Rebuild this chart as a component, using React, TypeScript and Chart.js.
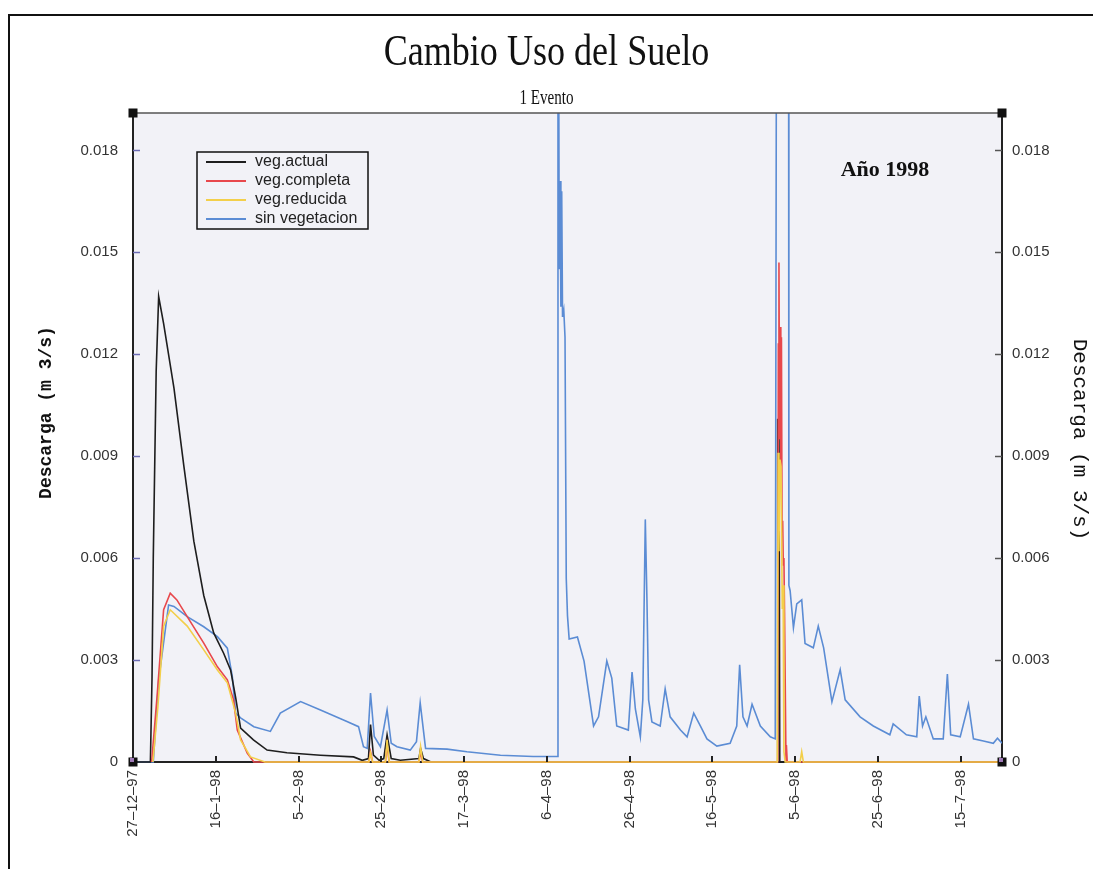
import React, { useEffect, useRef } from "react";
import { Chart, registerables } from "chart.js";

Chart.register(...registerables);

// Days counted from 27-12-97
const xTickDays = [0, 20, 40, 60, 80, 100, 120, 140, 160, 180, 200];
const xTickLabels = ["27–12–97", "16–1–98", "5–2–98", "25–2–98", "17–3–98", "6–4–98", "26–4–98", "16–5–98", "5–6–98", "25–6–98", "15–7–98"];
const yTicks = [0, 0.003, 0.006, 0.009, 0.012, 0.015, 0.018];
const yTickLabels = ["0", "0.003", "0.006", "0.009", "0.012", "0.015", "0.018"];

const chartTitle = "Cambio Uso del Suelo";
const chartSubtitle = "1 Evento";
const axisTitle = "Descarga (m 3/s)";
const yearNote = "Año 1998";

const seriesNames = ["veg.actual", "veg.completa", "veg.reducida", "sin vegetacion"];
const seriesColors = ["#1e1e1e", "#e8484c", "#f3cf4a", "#5b8cd4"];

const actualDays = [0, 4.2, 4.6, 4.9, 5.6, 6.2, 7.4, 9.9, 12.3, 14.7, 17.1, 19.5, 21.9, 23.6, 24.8, 26.0, 29.1, 32.4, 37.2, 45.3, 53.3, 55.4, 56.9, 57.4, 58.1, 59.5, 60.6, 61.4, 62.4, 64.6, 69.1, 69.5, 70.2, 72, 155.7, 155.8, 156.0, 156.1, 156.3, 210];
const actualValues = [0, 0, 0.0025, 0.006, 0.0115, 0.0137, 0.0129, 0.011, 0.0087, 0.0065, 0.0049, 0.0038, 0.0032, 0.0027, 0.0019, 0.001, 0.00065, 0.00035, 0.00027, 0.0002, 0.00015, 0.00005, 0.0001, 0.0011, 0.0002, 0.00005, 0.0001, 0.0008, 0.0001, 0.00005, 0.0001, 0.0004, 0.0001, 0, 0, 0.0101, 0.0086, 0.0101, 0, 0];

const completaDays = [4.5, 5.8, 7.4, 9.0, 10.6, 13.1, 17.1, 20.4, 22.8, 24.3, 25.2, 27.6, 29.2, 57.0, 57.4, 57.9, 61.0, 61.4, 61.9, 69.1, 69.5, 70.0, 155.8, 155.95, 156.1, 156.25, 156.4, 156.55, 156.7, 156.85, 157.0, 157.15, 157.3, 157.45, 157.8, 157.9, 158.1, 210];
const completaValues = [0, 0.0019, 0.00448, 0.00497, 0.00477, 0.00428, 0.0035, 0.0028, 0.00242, 0.00183, 0.00094, 0.00026, 0, 0, 0.0003, 0, 0, 0.0005, 0, 0, 0.0003, 0, 0, 0.0123, 0.0147, 0.0095, 0.0128, 0.0088, 0.0125, 0.0068, 0.0071, 0.0058, 0.006, 0.0044, 0, 0.0005, 0, 0];

const reducidaDays = [4.8, 6.0, 7.4, 9.0, 13.1, 17.1, 20.4, 22.8, 24.8, 26.0, 28.4, 31.9, 57.0, 57.4, 57.9, 61.0, 61.4, 61.9, 69.1, 69.5, 70.0, 155.7, 155.9, 156.1, 156.35, 156.6, 156.9, 157.1, 157.3, 157.6, 161.2, 161.6, 162.0, 210];
const reducidaValues = [0, 0.0016, 0.004, 0.00448, 0.004, 0.0033, 0.00271, 0.00233, 0.00144, 0.00065, 0.00015, 0, 0, 0.00026, 0, 0, 0.00065, 0, 0, 0.00045, 0, 0, 0.0091, 0.0062, 0.0089, 0.0087, 0.0045, 0.0052, 0.0003, 0, 0, 0.0003, 0, 0];

const sinVegDays = [0, 4.9, 6.2, 8.6, 9.9, 13.1, 17.1, 20.4, 22.8, 24.0, 24.8, 26.0, 29.2, 33.2, 35.6, 40.5, 45.3, 51.7, 54.5, 55.7, 56.6, 57.4, 58.3, 59.8, 61.4, 62.4, 63.8, 67.0, 68.5, 69.4, 70.7, 75.9, 80.7, 88.8, 96.7, 102.5, 102.7, 103.0, 103.2, 103.4, 103.6, 103.8, 104.1, 104.4, 104.7, 105.0, 105.4, 107.4, 109.0, 111.3, 112.5, 114.5, 115.7, 116.9, 119.7, 120.6, 121.4, 122.6, 123.2, 123.8, 124.2, 124.6, 125.4, 127.4, 128.6, 129.8, 132.3, 133.9, 135.5, 137.1, 138.7, 141.1, 144.3, 145.9, 146.6, 147.4, 148.4, 149.6, 151.6, 154.0, 155.2, 155.6, 158.4, 158.5, 158.8, 159.6, 160.4, 161.6, 162.4, 164.4, 165.6, 166.9, 168.9, 170.9, 172.1, 175.7, 178.9, 182.9, 183.7, 186.9, 189.4, 190.0, 190.8, 191.6, 193.4, 195.8, 196.8, 197.6, 199.9, 201.9, 203.1, 205.5, 207.9, 208.9, 210];
const sinVegValues = [0, 0, 0.0024, 0.00462, 0.00458, 0.00428, 0.00398, 0.00369, 0.00335, 0.00251, 0.00144, 0.0013, 0.00104, 0.0009, 0.00144, 0.00178, 0.00153, 0.00119, 0.00104, 0.00045, 0.0004, 0.00203, 0.00075, 0.00045, 0.00153, 0.00055, 0.00045, 0.00035, 0.0006, 0.00174, 0.0004, 0.00038, 0.0003, 0.0002, 0.00016, 0.00016, 0.03, 0.0145, 0.0171, 0.0134, 0.0168, 0.0131, 0.0133, 0.0125, 0.0054, 0.0043, 0.00362, 0.00368, 0.00297, 0.00106, 0.00133, 0.00297, 0.00247, 0.00106, 0.00094, 0.00265, 0.00156, 0.00074, 0.00183, 0.00714, 0.00477, 0.00183, 0.00118, 0.00106, 0.00215, 0.00133, 0.00094, 0.00074, 0.00144, 0.00106, 0.00068, 0.00047, 0.00055, 0.00106, 0.00286, 0.00133, 0.00106, 0.0017, 0.00106, 0.00074, 0.00068, 0.03, 0.03, 0.0052, 0.00504, 0.00395, 0.00465, 0.00477, 0.00349, 0.00336, 0.004, 0.00336, 0.00177, 0.00272, 0.00183, 0.00133, 0.00106, 0.0008, 0.00112, 0.0008, 0.00074, 0.00194, 0.00106, 0.00133, 0.00068, 0.00068, 0.00259, 0.0008, 0.00074, 0.0017, 0.00068, 0.00062, 0.00055, 0.0007, 0.00055];

const seriesDays = [actualDays, completaDays, reducidaDays, sinVegDays];
const seriesValues = [actualValues, completaValues, reducidaValues, sinVegValues];
// drawing order: lower value drawn on top
const seriesOrder = [3, 2, 1, 4];

const PLOT_BG = "#f2f2f7";
const SERIF = "'Liberation Serif', 'Times New Roman', serif";
const MONO = "'Liberation Mono', 'Courier New', monospace";

function drawStretchedText(ctx: any, text: string, cx: number, baseline: number, font: string, scaleX: number) {
  ctx.save();
  ctx.translate(cx, baseline);
  ctx.scale(scaleX, 1);
  ctx.font = font;
  ctx.textAlign = "center";
  ctx.textBaseline = "alphabetic";
  ctx.fillText(text, 0, 0);
  ctx.restore();
}

const framePlugin = {
  id: "frameDecor",
  beforeDraw(chart: any) {
    const { ctx, chartArea: a } = chart;
    ctx.save();
    ctx.fillStyle = "#ffffff";
    ctx.fillRect(0, 0, chart.width, chart.height);
    ctx.fillStyle = PLOT_BG;
    ctx.fillRect(a.left, a.top, a.right - a.left, a.bottom - a.top);

    // titles, centred on the page
    const cx = chart.width / 2;
    ctx.fillStyle = "#111";
    drawStretchedText(ctx, chartTitle, cx, 65, `44px ${SERIF}`, 0.82);
    drawStretchedText(ctx, chartSubtitle, cx, 104, `21px ${SERIF}`, 0.72);

    // axis titles
    const midY = (a.top + a.bottom) / 2;
    ctx.save();
    ctx.translate(46, midY - 25);
    ctx.rotate(-Math.PI / 2);
    ctx.font = `bold 18px ${MONO}`;
    ctx.textAlign = "center";
    ctx.textBaseline = "middle";
    ctx.fillText(axisTitle, 0, 0);
    ctx.restore();

    ctx.save();
    ctx.translate(1080, midY + 2);
    ctx.rotate(Math.PI / 2);
    ctx.font = `21px ${MONO}`;
    ctx.textAlign = "center";
    ctx.textBaseline = "middle";
    ctx.fillText(axisTitle, 0, 0);
    ctx.restore();
    ctx.restore();
  },
  afterDatasetsDraw(chart: any) {
    const { ctx, chartArea: a, scales } = chart;
    ctx.save();
    // top edge of the plot box
    ctx.strokeStyle = "#555";
    ctx.lineWidth = 1.5;
    ctx.beginPath();
    ctx.moveTo(a.left, a.top);
    ctx.lineTo(a.right, a.top);
    ctx.stroke();
    // inward tick marks
    const y = scales.y;
    yTicks.forEach((v) => {
      if (v === 0) return;
      const py = Math.round(y.getPixelForValue(v)) + 0.5;
      ctx.strokeStyle = "#6c6cb4";
      ctx.beginPath();
      ctx.moveTo(a.left, py);
      ctx.lineTo(a.left + 7, py);
      ctx.stroke();
      ctx.strokeStyle = "#555";
      ctx.beginPath();
      ctx.moveTo(a.right - 7, py);
      ctx.lineTo(a.right, py);
      ctx.stroke();
    });
    const x = scales.x;
    ctx.strokeStyle = "#222";
    ctx.lineWidth = 2;
    xTickDays.forEach((d) => {
      if (d === 0) return;
      const px = Math.round(x.getPixelForValue(d));
      ctx.beginPath();
      ctx.moveTo(px, a.bottom);
      ctx.lineTo(px, a.bottom - 6);
      ctx.stroke();
    });

    // legend box
    const lx = 197, ly = 152, lw = 171, lh = 77;
    ctx.fillStyle = PLOT_BG;
    ctx.fillRect(lx, ly, lw, lh);
    ctx.strokeStyle = "#111";
    ctx.lineWidth = 1.5;
    ctx.strokeRect(lx, ly, lw, lh);
    ctx.font = "16px 'Liberation Sans', Arial, sans-serif";
    ctx.textBaseline = "middle";
    ctx.textAlign = "left";
    seriesNames.forEach((name, i) => {
      const ry = ly + 10 + i * 19;
      ctx.strokeStyle = seriesColors[i];
      ctx.lineWidth = 2;
      ctx.beginPath();
      ctx.moveTo(lx + 9, ry);
      ctx.lineTo(lx + 49, ry);
      ctx.stroke();
      ctx.fillStyle = "#222";
      ctx.fillText(name, lx + 58, ry);
    });

    // year annotation
    ctx.font = `bold 22px ${SERIF}`;
    ctx.fillStyle = "#111";
    ctx.textAlign = "center";
    ctx.fillText(yearNote, 885, 170);
    ctx.restore();
  },
  afterDraw(chart: any) {
    const { ctx, chartArea: a } = chart;
    ctx.save();
    const s = 9;
    const corners = [
      [a.left, a.top, false],
      [a.right, a.top, false],
      [a.left, a.bottom, true],
      [a.right, a.bottom, true],
    ];
    corners.forEach(([cx, cy, purple]: any) => {
      ctx.fillStyle = "#111";
      ctx.fillRect(cx - s / 2, cy - s / 2, s, s);
      if (purple) {
        ctx.fillStyle = "#a07ab8";
        ctx.fillRect(cx - 3, cy - 4, 4, 4);
      }
    });
    ctx.restore();
  },
};

export default function App() {
  const canvasRef = useRef<HTMLCanvasElement | null>(null);

  useEffect(() => {
    if (!canvasRef.current) return;
    const datasets = seriesNames.map((name, i) => ({
      label: name,
      data: seriesDays[i].map((d, k) => ({ x: d, y: seriesValues[i][k] })),
      borderColor: seriesColors[i],
      backgroundColor: seriesColors[i],
      borderWidth: 1.6,
      pointRadius: 0,
      tension: 0,
      fill: false,
      order: seriesOrder[i],
      clip: { left: 0, right: 0, top: 0, bottom: 2 },
      yAxisID: "y",
    }));

    const tickFont = { family: "'Liberation Sans', Arial, sans-serif", size: 15 };

    const chart = new Chart(canvasRef.current, {
      type: "line",
      data: { datasets },
      plugins: [framePlugin],
      options: {
        responsive: false,
        animation: false,
        events: [],
        layout: { padding: { top: 113, left: 0, right: 0, bottom: 0 } },
        plugins: {
          legend: { display: false },
          tooltip: { enabled: false },
          title: { display: false },
          subtitle: { display: false },
        },
        scales: {
          x: {
            type: "linear",
            position: "bottom",
            min: 0,
            max: 210,
            afterBuildTicks: (scale: any) => {
              scale.ticks = xTickDays.map((v) => ({ value: v }));
            },
            afterFit: (scale: any) => {
              scale.height = 107;
            },
            ticks: {
              autoSkip: false,
              minRotation: 90,
              maxRotation: 90,
              padding: 8,
              color: "#333",
              font: tickFont,
              callback: (v: any) => {
                const idx = xTickDays.indexOf(Number(v));
                return idx >= 0 ? xTickLabels[idx] : "";
              },
            },
            grid: { display: false, drawTicks: false },
            border: { display: true, color: "#222", width: 2 },
          },
          y: {
            type: "linear",
            position: "left",
            min: 0,
            max: 0.0191,
            afterBuildTicks: (scale: any) => {
              scale.ticks = yTicks.map((v) => ({ value: v }));
            },
            afterFit: (scale: any) => {
              scale.width = 133;
            },
            ticks: {
              padding: 15,
              color: "#333",
              font: tickFont,
              callback: (v: any) => {
                const idx = yTicks.indexOf(Number(v));
                return idx >= 0 ? yTickLabels[idx] : "";
              },
            },
            grid: { display: false, drawTicks: false },
            border: { display: true, color: "#222", width: 2 },
          },
          y2: {
            type: "linear",
            position: "right",
            min: 0,
            max: 0.0191,
            afterBuildTicks: (scale: any) => {
              scale.ticks = yTicks.map((v) => ({ value: v }));
            },
            afterFit: (scale: any) => {
              scale.width = 91;
            },
            ticks: {
              padding: 10,
              color: "#333",
              font: tickFont,
              callback: (v: any) => {
                const idx = yTicks.indexOf(Number(v));
                return idx >= 0 ? yTickLabels[idx] : "";
              },
            },
            grid: { display: false, drawTicks: false },
            border: { display: true, color: "#222", width: 2 },
          },
        },
      } as any,
    });
    return () => chart.destroy();
  }, []);

  return (
    <div style={{ position: "absolute", left: 0, top: 0, width: 1093, height: 869, overflow: "hidden", background: "#fff" }}>
      <canvas ref={canvasRef} width={1093} height={869} style={{ display: "block" }} />
      <div
        style={{
          position: "absolute",
          left: 8,
          top: 14,
          width: 1100,
          height: 900,
          borderTop: "2px solid #111",
          borderLeft: "2px solid #111",
          pointerEvents: "none",
        }}
      />
    </div>
  );
}
